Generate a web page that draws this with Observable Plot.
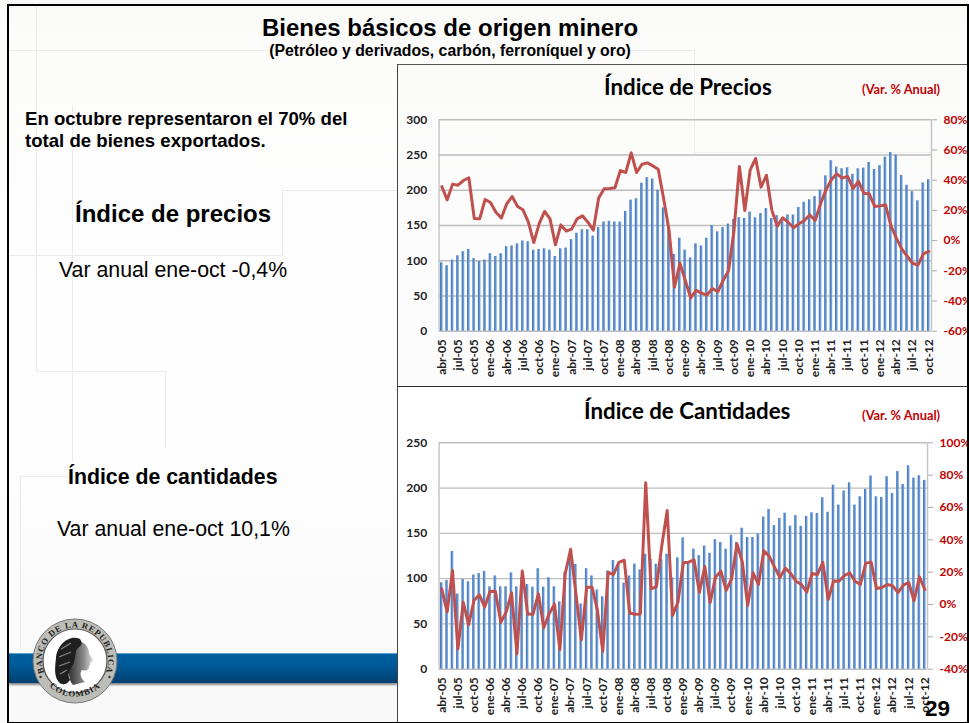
<!DOCTYPE html>
<html lang="es"><head><meta charset="utf-8">
<script src="https://cdn.jsdelivr.net/npm/d3@7"></script>
<script src="https://cdn.jsdelivr.net/npm/@observablehq/plot@0.6"></script>
<style>
html,body{margin:0;padding:0;background:#fff}
#slide{position:relative;width:969px;height:723px;overflow:hidden;font-family:"Liberation Sans",Arial,sans-serif;color:#000}
#bg{position:absolute;left:0;top:0;width:967px;height:723px;background:linear-gradient(#f9f9f6 0,#fcfcfb 40px,#fefefe 300px,#fefefe 450px,#f9f9f9 700px)}
.g{position:absolute;background:#ebebe9}
.t{position:absolute;white-space:nowrap;line-height:1}
.c{transform:translateX(-50%)}
.ct{font-family:Lato,sans-serif;font-weight:700}
.var{font-family:Lato,sans-serif;font-weight:700;color:#c00000;font-size:12.8px}
#frame{position:absolute;left:7px;top:4px;width:958px;height:716px;border:2px solid #000;border-right-width:2px;pointer-events:none;z-index:6}
#band{position:absolute;left:9px;top:653px;width:388px;height:30px;background:linear-gradient(#00609f 0,#005a98 40%,#003f6f 100%);border-top:1px solid #5aa0cc;box-sizing:border-box;box-shadow:0 2px 2px #888}
#panelTop,#panelBot{position:absolute;left:397px;width:570px}
#panelTop{top:64px;height:322px;background:rgba(250,250,250,.35);border-top:1px solid #555;box-sizing:border-box}
#panelBot{top:386px;height:337px;background:#fff;border-top:1px solid #333;box-sizing:border-box}
#vline{position:absolute;left:397px;top:64px;width:1px;height:659px;background:#444;z-index:3}
.chart{position:absolute;left:397px;z-index:2}
.chart svg{display:block}
.chart svg text{font-weight:700}
</style></head>
<body><div id="slide">
<div id="bg"></div>
<div class="g" style="left:36px;top:6px;width:1px;height:365px"></div>
<div class="g" style="left:36px;top:371px;width:129px;height:1px"></div>
<div class="g" style="left:165px;top:371px;width:1px;height:76px"></div>
<div class="g" style="left:72px;top:105px;width:1px;height:356px"></div>
<div class="g" style="left:20px;top:476px;width:55px;height:1px"></div>
<div class="g" style="left:20px;top:476px;width:1px;height:175px"></div>
<div class="g" style="left:9px;top:50px;width:685px;height:1px"></div>
<div class="g" style="left:694px;top:50px;width:1px;height:102px"></div>
<div class="g" style="left:694px;top:152px;width:237px;height:1px"></div>
<div class="g" style="left:282px;top:190px;width:115px;height:1px"></div>
<div class="g" style="left:282px;top:190px;width:1px;height:65px"></div>
<div class="g" style="left:9px;top:255px;width:273px;height:1px"></div>
<div id="panelTop"></div><div id="panelBot"></div><div id="vline"></div>
<div id="band"></div>
<svg id="logo" width="90" height="90" viewBox="-45 -45 90 90" style="position:absolute;left:30px;top:616px;z-index:4">
 <defs>
  <path id="arcT" d="M-30.5,12 A33,33 0 1 1 30.5,12"/>
  <path id="arcB" d="M-27,24 A37,37 0 0 0 27,24"/>
  <linearGradient id="face" x1="0" x2="1"><stop offset="0" stop-color="#333"/><stop offset=".6" stop-color="#888"/><stop offset="1" stop-color="#ddd"/></linearGradient>
 </defs>
 <circle r="42" fill="#bdbdb8" stroke="#777" stroke-width="1"/>
 <circle r="32" fill="#fff" stroke="#555" stroke-width="1.2"/>
 <text font-family="Liberation Serif,serif" font-weight="700" font-size="8.6" fill="#222" letter-spacing=".8"><textPath href="#arcT" startOffset="50%" text-anchor="middle">BANCO DE LA REPUBLICA</textPath></text>
 <text font-family="Liberation Serif,serif" font-weight="700" font-size="8.6" fill="#222" letter-spacing="1"><textPath href="#arcB" startOffset="50%" text-anchor="middle">COLOMBIA</textPath></text>
 <circle cx="-34.5" cy="16" r="1.2" fill="#333"/><circle cx="34.5" cy="16" r="1.2" fill="#333"/>
 <path d="M2,-20 C10,-20 14,-13 14,-8 C15,-5 18,-2 18,-1 C18,1 15,1 15,2 C16,4 14,5 14,6 C14,9 11,10 7,9 C4,12 6,18 10,21 L-2,24 C-8,18 -6,6 -4,0 Z" fill="url(#face)"/>
 <path d="M5,-22 C-6,-27 -18,-16 -19,-3 C-20,6 -21,14 -17,20 C-14,25 -8,24 -5,19 C-9,12 -3,7 -1,1 C1,-5 0,-10 3,-13 C6,-15 8,-18 5,-22 Z" fill="#1f1f1f"/>
 <path d="M-14,-12 l10,-6 M-16,-4 l12,-5 M-16,5 l11,-4 M-15,13 l7,-4" stroke="#888" stroke-width="1.2" fill="none"/>
</svg>
<svg width="0" height="0" style="position:absolute"><defs><linearGradient id="barFill" x1="0" x2="1" y1="0" y2="0"><stop offset="0" stop-color="#3a70b5"/><stop offset="1" stop-color="#80ace2"/></linearGradient></defs></svg>

<div class="t c" style="left:450px;top:15.5px;font-size:24px;font-weight:700">Bienes básicos de origen minero</div>
<div class="t c" style="left:450px;top:43px;font-size:15.8px;font-weight:700">(Petróleo y derivados, carbón, ferroníquel y oro)</div>
<div class="t" style="left:25px;top:108px;font-size:18.6px;font-weight:700;line-height:22px">En octubre representaron el 70% del<br>total de bienes exportados.</div>
<div class="t" style="left:75px;top:202px;font-size:24px;font-weight:700">Índice de precios</div>
<div class="t" style="left:59px;top:259.5px;font-size:21.3px">Var anual ene-oct -0,4%</div>
<div class="t" style="left:68px;top:467px;font-size:21.3px;font-weight:700">Índice de cantidades</div>
<div class="t" style="left:57px;top:519px;font-size:21.3px">Var anual ene-oct 10,1%</div>
<div class="t ct" style="left:604px;top:75.5px;font-size:22.3px;z-index:3">Índice de Precios</div>
<div class="t var" style="left:862px;top:83px;z-index:3">(Var. % Anual)</div>
<div class="t ct" style="left:584px;top:400px;font-size:22.3px;z-index:3">Índice de Cantidades</div>
<div class="t var" style="left:862px;top:409px;z-index:3">(Var. % Anual)</div>
<div class="t" style="left:925px;top:698px;font-size:22.5px;font-weight:700;z-index:5">29</div>
<div id="top" class="chart" style="top:66px"></div>
<div id="bot" class="chart" style="top:387px"></div>
<div id="frame"></div>
</div>
<script>
const meses = [
"abr-05","may-05","jun-05","jul-05","ago-05","sep-05","oct-05","nov-05","dic-05",
"ene-06","feb-06","mar-06","abr-06","may-06","jun-06","jul-06","ago-06","sep-06","oct-06","nov-06","dic-06",
"ene-07","feb-07","mar-07","abr-07","may-07","jun-07","jul-07","ago-07","sep-07","oct-07","nov-07","dic-07",
"ene-08","feb-08","mar-08","abr-08","may-08","jun-08","jul-08","ago-08","sep-08","oct-08","nov-08","dic-08",
"ene-09","feb-09","mar-09","abr-09","may-09","jun-09","jul-09","ago-09","sep-09","oct-09","nov-09","dic-09",
"ene-10","feb-10","mar-10","abr-10","may-10","jun-10","jul-10","ago-10","sep-10","oct-10","nov-10","dic-10",
"ene-11","feb-11","mar-11","abr-11","may-11","jun-11","jul-11","ago-11","sep-11","oct-11","nov-11","dic-11",
"ene-12","feb-12","mar-12","abr-12","may-12","jun-12","jul-12","ago-12","sep-12","oct-12"];
const precios = [97,93,101,107,113,116,103,99,101,110,106,110,120,121,124,128,127,115,116,117,115,106,117,118,130,139,144,144,135,147,155,156,155,155,170,186,188,210,218,216,200,175,149,109,132,115,104,124,121,132,150,141,147,152,158.5,161,160,169,161,167,174,160,164,160,165,165,175.5,183,186.5,191,200,220.5,242,233,230.5,232,222.5,230.5,231.5,239.5,229.5,235,247,253.5,250,221,207,198,185,210.5,215];
const preciosVar = [35.8,27,37.4,36.7,39.8,41.6,14.6,14.4,27.2,25.2,18.8,14.9,24.4,29.2,22.6,20.4,12.2,-1.3,11.3,19.3,14.4,-2.8,10.4,6.3,7.6,14.4,16.4,12.2,6.9,28.3,34.3,34.5,35,46.4,45.1,58.1,45.1,50.6,51.5,49.5,47.3,27.7,6.7,-30.8,-15,-26.4,-38,-33,-34.8,-36.1,-31.7,-33.9,-26.4,-19.8,6.7,49.1,19.9,46.9,54.4,35.4,43.3,19.9,9.6,15.1,12.2,8.5,11.1,13.3,17,13.3,24.4,33.6,40.3,44.2,41.4,42.5,34.5,39.2,31.4,30.8,22.6,23,23.7,10,1.6,-5.5,-10.3,-15,-16.3,-8.8,-7.2];
const cantidades = [95.4,98,130,83,99,96.5,104,105.7,108,91,103,91,91,106.4,91,101,93.5,90.6,111,90.6,101,91,74.4,107,124,115.6,72,111,103,87.6,80,108.6,120,115,95,103,116,109.7,127,121.5,116,121,127,101,123,145,118,132.5,125.5,136,128,143,140,132.5,148,140,155.7,145.4,145.4,149.4,168,176.3,158.6,166.4,172.3,158,169.6,157.8,168.8,172.7,172,189.3,173.4,203.3,181.2,196.8,205.8,181.2,190.4,198.6,213.4,190.4,189.7,212.6,194,218.3,204,224.6,211,213.6,208.5];
const cantidadesVar = [9.7,-4.7,21,-27.4,1.4,-12.6,2.5,6,-1.6,8.2,8,-11,-4.7,7.2,-30.5,20.8,-5.8,-6,6.6,-14.4,-5.8,0.2,-28,19,34.2,6.6,-21.9,10.7,10.7,-3.7,-28.9,19.8,18.6,26,27.4,-5.2,-6,-5.8,75.3,9.7,11.1,36.5,58.1,-6.8,1.4,25.8,26.2,27.6,7.4,23.5,1.2,16.9,20.6,8.7,15.9,37.5,26.2,-0.6,19.6,12.4,33.2,29.9,23.1,16.7,22.5,19.2,14.4,12.4,7.6,19.2,18.6,26,3.1,14.6,14.4,17.9,19.6,14.4,12.4,25.6,26.2,9.9,10.5,12.4,11.5,7.4,12,13.6,2.3,17.1,9.3];
const ticksX = meses.filter((_, i) => i % 3 === 0);
const ticksPrecios = [0,50,100,150,200,250,300];
const ticksPreciosVar = [-60,-40,-20,0,20,40,60,80];
const ticksCant = [0,50,100,150,200,250];
const ticksCantVar = [-40,-20,0,20,40,60,80,100];

function panel({bars, pct, ticksL, ticksR, height, marginTop, marginBottom, marginRight}) {
  const yMax = ticksL[ticksL.length-1], a = ticksR[0], b = ticksR[ticksR.length-1];
  const toLeft = d3.scaleLinear([a,b],[0,yMax]);
  const rows = meses.map((m,i) => ({m, v:bars[i], p:toLeft(pct[i])}));
  return Plot.plot({
    width:570, height, marginLeft:41.6, marginRight, marginTop, marginBottom,
    style:{background:"transparent", fontFamily:"Lato,sans-serif", fontSize:"11.5px", color:"#222", overflow:"hidden"},
    x:{type:"band", domain:meses, paddingInner:.52, paddingOuter:.26, round:false, label:null, axis:null},
    y:{domain:[0,yMax], label:null, axis:null},
    marks:[
      Plot.ruleY(ticksL,{stroke:"#bdbdbd",strokeWidth:1.4}),
      Plot.ruleX([meses[0]],{x:()=>meses[0],dx:-2.7,stroke:"#c4c4c4",strokeWidth:1.4}),
      Plot.ruleX([meses[90]],{x:()=>meses[90],dx:2.7,stroke:"#c4c4c4",strokeWidth:1.4}),
      Plot.barY(rows,{x:"m",y:"v",fill:"url(#barFill)"}),
      Plot.line(rows,{x:"m",y:"p",stroke:"#c0504d",strokeWidth:3,strokeLinejoin:"round",curve:"linear"}),
      Plot.axisY(ticksL,{anchor:"left",tickSize:0,tickPadding:12,fontSize:12,label:null}),
      Plot.axisY(ticksR.map(toLeft),{anchor:"right",tickSize:5,tickPadding:7,stroke:"#aaa",fill:"#c00000",fontSize:12,label:null,
        tickFormat:d=>Math.round(toLeft.invert(d))+"%"}),
      Plot.axisX(ticksX,{anchor:"bottom",tickSize:0,tickPadding:8,tickRotate:-90,fontSize:12,label:null})
    ]
  });
}
document.getElementById("top").append(panel({bars:precios,pct:preciosVar,ticksL:ticksPrecios,ticksR:ticksPreciosVar,height:320,marginTop:53.3,marginBottom:55.3,marginRight:36}));
document.getElementById("bot").append(panel({bars:cantidades,pct:cantidadesVar,ticksL:ticksCant,ticksR:ticksCantVar,height:336,marginTop:55.3,marginBottom:54.3,marginRight:40}));
</script>
</body></html>
